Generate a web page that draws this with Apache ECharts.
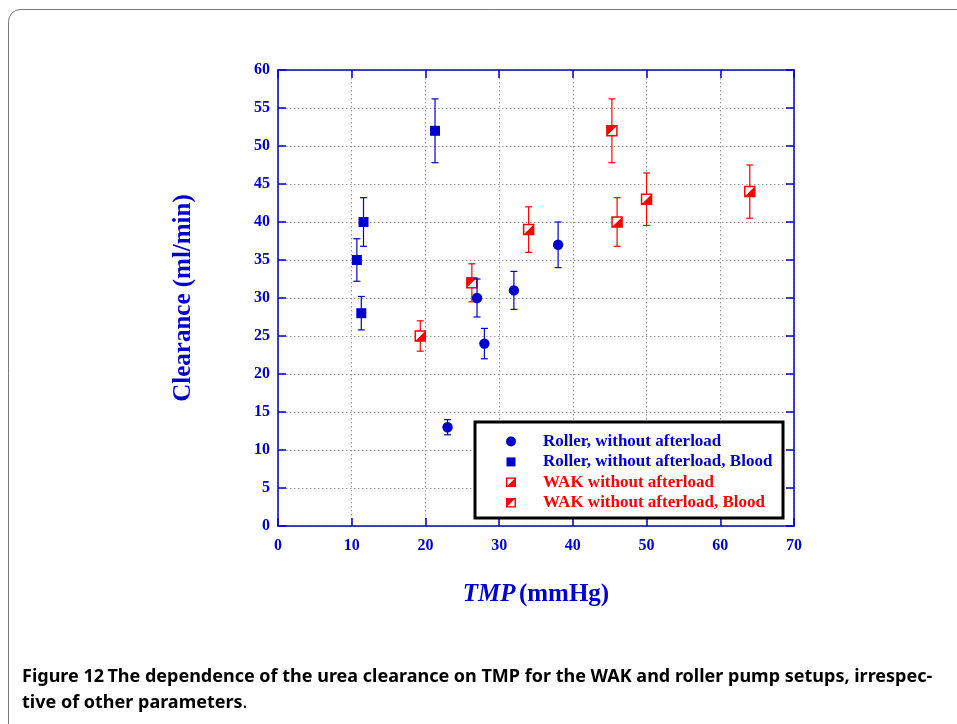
<!DOCTYPE html>
<html>
<head>
<meta charset="utf-8">
<script src="https://cdn.jsdelivr.net/npm/echarts@6/dist/echarts.min.js"></script>
<style>html,body{margin:0;padding:0;background:#fff;}#c{width:957px;height:724px;}</style>
</head>
<body>
<div id="c"></div>
<script>
// ---- data ----
var xTicks = [0, 10, 20, 30, 40, 50, 60, 70];
var yTicks = [0, 5, 10, 15, 20, 25, 30, 35, 40, 45, 50, 55, 60];

var rollerX   = [23, 27, 28, 32, 38];
var rollerY   = [13, 30, 24, 31, 37];
var rollerErr = [1.0, 2.5, 2.0, 2.5, 3.0];

var rollerBloodX   = [10.7, 11.3, 11.6, 21.3];
var rollerBloodY   = [35, 28, 40, 52];
var rollerBloodErr = [2.8, 2.2, 3.2, 4.2];

var wakX   = [19.3, 34, 46, 50, 64];
var wakY   = [25, 39, 40, 43, 44];
var wakErr = [2.0, 3.0, 3.2, 3.45, 3.5];

var wakBloodX   = [26.3, 45.3];
var wakBloodY   = [32, 52];
var wakBloodErr = [2.5, 4.2];

var seriesNames = ['Roller, without afterload', 'Roller, without afterload, Blood',
                   'WAK without afterload', 'WAK without afterload, Blood'];
var caption1 = 'The dependence of the urea clearance on TMP for the WAK and roller pump setups, irrespec-';
var caption2 = 'tive of other parameters';

// ---- helpers ----
var BLUE = '#0000cc', RED = '#ff0000';
function zip(xs, ys, es) { return xs.map(function (x, i) { return [x, ys[i], es[i]]; }); }

function makeRender(kind, color) {
  return function (params, api) {
    var x = api.value(0), y = api.value(1), e = api.value(2);
    var c = api.coord([x, y]);
    var top = api.coord([x, y + e]);
    var bot = api.coord([x, y - e]);
    var cap = 3.5, s = 5;
    var ch = [
      {type: 'line', shape: {x1: c[0], y1: top[1], x2: c[0], y2: bot[1]}, style: {stroke: color, lineWidth: 1.2}},
      {type: 'line', shape: {x1: c[0] - cap, y1: top[1], x2: c[0] + cap, y2: top[1]}, style: {stroke: color, lineWidth: 1.2}},
      {type: 'line', shape: {x1: c[0] - cap, y1: bot[1], x2: c[0] + cap, y2: bot[1]}, style: {stroke: color, lineWidth: 1.2}}
    ];
    if (kind === 'circle') {
      ch.push({type: 'circle', shape: {cx: c[0], cy: c[1], r: 5.2}, style: {fill: color}});
    } else if (kind === 'square') {
      ch.push({type: 'rect', shape: {x: c[0] - s, y: c[1] - s, width: 2 * s, height: 2 * s}, style: {fill: color}});
    } else {
      ch.push({type: 'rect', shape: {x: c[0] - s, y: c[1] - s, width: 2 * s, height: 2 * s}, style: {fill: '#fff', stroke: color, lineWidth: 1.5}});
      var pts = kind === 'halfLR'
        ? [[c[0] + s, c[1] - s], [c[0] + s, c[1] + s], [c[0] - s, c[1] + s]]
        : [[c[0] - s, c[1] - s], [c[0] + s, c[1] - s], [c[0] - s, c[1] + s]];
      ch.push({type: 'polygon', shape: {points: pts}, style: {fill: color}});
    }
    return {type: 'group', children: ch};
  };
}

function svgUri(inner) {
  var svg = '<svg xmlns="http://www.w3.org/2000/svg" width="10" height="10" viewBox="0 0 10 10">' + inner + '</svg>';
  return 'image://data:image/svg+xml;charset=utf-8,' + encodeURIComponent(svg);
}
function halfIcon(lr) {
  var poly = lr ? '10,0 10,10 0,10' : '0,0 10,0 0,10';
  return svgUri('<rect x="0.75" y="0.75" width="8.5" height="8.5" fill="#fff" stroke="#ff0000" stroke-width="1.5"/>' +
    '<polygon points="' + poly + '" fill="#ff0000"/>');
}
var squareIcon = svgUri('<rect x="0.5" y="0.5" width="9" height="9" fill="#0000cc"/>');

var chart = echarts.init(document.getElementById('c'), null, {renderer: 'canvas'});
var serif = '"Liberation Serif", "Times New Roman", serif';
var capFont = '"Noto Sans", sans-serif';
var axisLabelStyle = {color: BLUE, fontFamily: serif, fontWeight: 'bold', fontSize: 16};

var option = {
  animation: false,
  backgroundColor: '#fff',
  grid: {left: 278, top: 70, width: 516, height: 456, containLabel: false},
  xAxis: [{
    type: 'value', min: 0, max: 70, interval: 10, position: 'bottom',
    axisLine: {show: true, onZero: false, lineStyle: {color: BLUE, width: 1.5}},
    axisTick: {show: true, inside: true, length: 8, lineStyle: {color: BLUE, width: 1.5}},
    axisLabel: Object.assign({margin: 12}, axisLabelStyle),
    splitLine: {show: true, lineStyle: {color: '#999', type: [1.5, 2.5], width: 1}},
    name: '{i|TMP} {n|(mmHg)}', nameLocation: 'middle', nameGap: 56,
    nameTextStyle: {rich: {
      i: {fontFamily: serif, fontStyle: 'italic', fontWeight: 'bold', fontSize: 25, color: BLUE},
      n: {fontFamily: serif, fontWeight: 'bold', fontSize: 25, color: BLUE}
    }}
  }, {
    type: 'value', min: 0, max: 70, interval: 10, position: 'top',
    axisLine: {show: true, onZero: false, lineStyle: {color: BLUE, width: 1.5}},
    axisTick: {show: true, inside: true, length: 8, lineStyle: {color: BLUE, width: 1.5}},
    axisLabel: {show: false}, splitLine: {show: false}
  }],
  yAxis: [{
    type: 'value', min: 0, max: 60, interval: 5, position: 'left',
    axisLine: {show: true, onZero: false, lineStyle: {color: BLUE, width: 1.5}},
    axisTick: {show: true, inside: true, length: 8, lineStyle: {color: BLUE, width: 1.5}},
    axisLabel: Object.assign({margin: 8}, axisLabelStyle),
    splitLine: {show: true, lineStyle: {color: '#999', type: [1.5, 2.5], width: 1}},
    name: 'Clearance (ml/min)', nameLocation: 'middle', nameGap: 82, nameRotate: 90,
    nameTextStyle: {fontFamily: serif, fontWeight: 'bold', fontSize: 25, color: BLUE}
  }, {
    type: 'value', min: 0, max: 60, interval: 5, position: 'right',
    axisLine: {show: true, onZero: false, lineStyle: {color: BLUE, width: 1.5}},
    axisTick: {show: true, inside: true, length: 8, lineStyle: {color: BLUE, width: 1.5}},
    axisLabel: {show: false}, splitLine: {show: false}
  }],
  legend: {
    orient: 'vertical', left: 484, top: 433, itemWidth: 54, itemHeight: 10, itemGap: 3.4,
    selectedMode: false, padding: 0, z: 20,
    textStyle: {fontFamily: serif, fontWeight: 'bold', fontSize: 17},
    data: [
      {name: seriesNames[0], icon: 'circle', textStyle: {color: BLUE}},
      {name: seriesNames[1], icon: squareIcon, textStyle: {color: BLUE}},
      {name: seriesNames[2], icon: halfIcon(true), textStyle: {color: RED}},
      {name: seriesNames[3], icon: halfIcon(false), textStyle: {color: RED}}
    ]
  },
  series: [
    {name: seriesNames[0], type: 'custom', itemStyle: {color: BLUE}, renderItem: makeRender('circle', BLUE),
     data: zip(rollerX, rollerY, rollerErr), z: 3},
    {name: seriesNames[1], type: 'custom', itemStyle: {color: BLUE}, renderItem: makeRender('square', BLUE),
     data: zip(rollerBloodX, rollerBloodY, rollerBloodErr), z: 3},
    {name: seriesNames[2], type: 'custom', itemStyle: {color: RED}, renderItem: makeRender('halfLR', RED),
     data: zip(wakX, wakY, wakErr), z: 2},
    {name: seriesNames[3], type: 'custom', itemStyle: {color: RED}, renderItem: makeRender('halfUL', RED),
     data: zip(wakBloodX, wakBloodY, wakBloodErr), z: 2}
  ],
  graphic: [
    {type: 'rect', left: 6, top: 7, shape: {x: 0, y: 0, width: 1000, height: 800, r: 12},
     style: {fill: null, stroke: '#777', lineWidth: 1}, silent: true, z: 0},
    {type: 'rect', shape: {x: 475, y: 422, width: 308, height: 96}, style: {fill: '#fff', stroke: '#000', lineWidth: 3}, z: 1},
    {type: 'text', left: 22, top: 668, z: 20, style: {
      text: '{b|Figure 12} {m|' + caption1 + '}',
      rich: {
        b: {fontFamily: capFont, fontWeight: 'bold', fontSize: 18, fill: '#000'},
        m: {fontFamily: capFont, fontWeight: 'bold', fontSize: 18, fill: '#000'}
      }}},
    {type: 'text', left: 22, top: 694, z: 20, style: {
      text: '{m|' + caption2 + '}{n|.}',
      rich: {
        m: {fontFamily: capFont, fontWeight: 'bold', fontSize: 18, fill: '#000'},
        n: {fontFamily: capFont, fontSize: 18, fill: '#000'}
      }}}
  ]
};
chart.setOption(option);
</script>
</body>
</html>
